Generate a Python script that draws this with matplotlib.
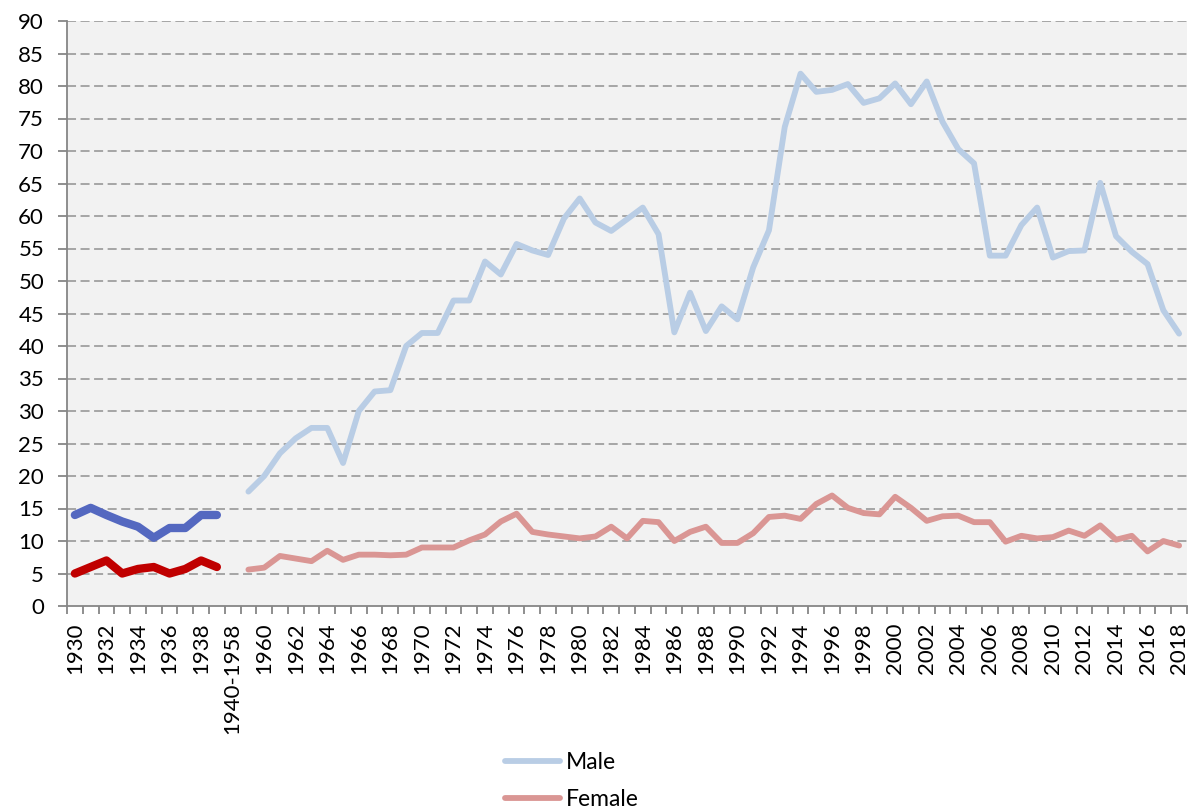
import matplotlib.pyplot as plt
import numpy as np

plt.rcParams['font.family'] = ['Lato', 'DejaVu Sans']

# categories: 1930-1939, one grouped period, then 1959-2018
categories = [str(y) for y in range(1930, 1940)] + ['1940-1958'] + [str(y) for y in range(1959, 2019)]

# early period (1930-1939)
male_early = [14, 15.1, 14, 13, 12.2, 10.5, 12, 12, 14, 14]
female_early = [5, 6, 7, 5, 5.7, 6, 5, 5.7, 7, 6]

# later period (1959-2018)
male_late = [17.6, 20, 23.5, 25.8, 27.4, 27.4, 22, 30, 33, 33.2,
             40, 42, 42, 47, 47, 53, 51, 55.7, 54.7, 54,
             59.6, 62.7, 59, 57.7, 59.5, 61.3, 57.2, 42.1, 48.2, 42.3,
             46.1, 44.1, 52.1, 57.8, 73.7, 81.9, 79.1, 79.4, 80.3, 77.4,
             78.1, 80.4, 77.2, 80.7, 74.5, 70.3, 68.1, 53.9, 53.9, 58.6,
             61.3, 53.6, 54.6, 54.7, 65.1, 56.9, 54.5, 52.6, 45.5, 41.9]
female_late = [5.6, 5.9, 7.7, 7.3, 6.9, 8.5, 7.1, 7.9, 7.9, 7.8,
               7.9, 9, 9, 9, 10.1, 11, 13, 14.2, 11.4, 11,
               10.7, 10.4, 10.7, 12.2, 10.4, 13.1, 12.9, 10, 11.4, 12.2,
               9.7, 9.7, 11.2, 13.7, 13.9, 13.4, 15.7, 17, 15.1, 14.3,
               14.1, 16.8, 15.1, 13.1, 13.8, 13.9, 12.9, 12.9, 9.9, 10.8,
               10.4, 10.6, 11.6, 10.8, 12.4, 10.2, 10.8, 8.4, 10, 9.3]

x_early = np.arange(len(male_early))
x_late = np.arange(len(male_late)) + len(male_early) + 1

fig = plt.figure(figsize=(11.9, 8.08), dpi=100)
ax = fig.add_axes([67 / 1190, 1 - 606 / 808, 1120 / 1190, 585 / 808])
ax.set_facecolor('#F2F2F2')

for v in range(5, 95, 5):
    ax.axhline(v, color='#A0A0A0', lw=1.3, ls=(0, (5, 2.5)), zorder=1)

kw = dict(solid_capstyle='round', solid_joinstyle='round', zorder=3)
ax.plot(x_late, male_late, color='#B9CDE5', lw=4.2, label='Male', **kw)
ax.plot(x_late, female_late, color='#DA9694', lw=4.2, label='Female', **kw)
ax.plot(x_early, male_early, color='#5468C0', lw=6, **kw)
ax.plot(x_early, female_early, color='#C00000', lw=6, **kw)

ax.set_xlim(-0.5, len(categories) - 0.5)
ax.set_ylim(0, 90)
ax.set_yticks(range(0, 95, 5))
ax.tick_params(axis='y', length=6.5, width=1.3, color='#868686', labelsize=16, pad=10)

ax.set_xticks(np.arange(0, len(categories), 2))
ax.set_xticklabels(categories[::2], rotation=90, fontsize=16)
ax.set_xticks(np.arange(-0.5, len(categories), 1), minor=True)
ax.tick_params(axis='x', which='major', length=0, pad=12)
ax.tick_params(axis='x', which='minor', length=6, width=1.3, color='#868686')

for s in ['top', 'right']:
    ax.spines[s].set_visible(False)
for s in ['left', 'bottom']:
    ax.spines[s].set_color('#868686')
    ax.spines[s].set_linewidth(1.3)

fig.legend(loc='upper left', bbox_to_anchor=(505 / 1190, 1 - 752 / 808), frameon=False,
           fontsize=16.5, handlelength=2.4, handletextpad=0.25, labelspacing=0.7,
           borderpad=0, borderaxespad=0)

fig.savefig('out.png', dpi=100)
